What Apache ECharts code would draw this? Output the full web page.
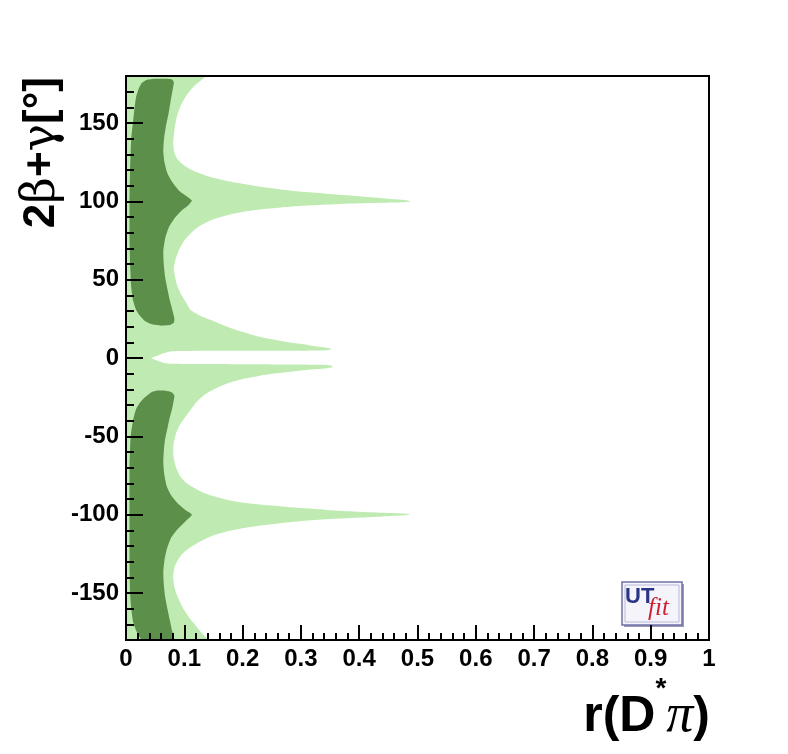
<!DOCTYPE html>
<html>
<head>
<meta charset="utf-8">
<script src="https://cdn.jsdelivr.net/npm/echarts@6/dist/echarts.min.js"></script>
<style>
html,body{margin:0;padding:0;background:#fff;}
#chart{width:788px;height:754px;}
</style>
</head>
<body>
<div id="chart"></div>
<script>
// ---- tick labels ----
const xTickValues = [0, 0.1, 0.2, 0.3, 0.4, 0.5, 0.6, 0.7, 0.8, 0.9, 1];
const yTickValues = [-150, -100, -50, 0, 50, 100, 150];
const yMinorTickValues = [-170,-160,-140,-130,-120,-110,-90,-80,-70,-60,-40,-30,-20,-10,10,20,30,40,60,70,80,90,110,120,130,140,160,170];

// ---- 95% probability region (light green): outline as [r, 2beta+gamma] ----
const light95 = [
  [0,180],[0.137,180],[0.128,177],[0.118,174],[0.11,170.7],[0.101,166],[0.095,162],[0.09,157.5],
  [0.087,153.7],[0.084,148],[0.082,142],[0.081,137],[0.083,131],[0.088,127],[0.096,124],[0.108,121],
  [0.122,118.5],[0.14,116],[0.162,114],[0.19,111.8],[0.225,109.6],[0.265,107.6],[0.31,105.9],
  [0.355,104.5],[0.4,103.2],[0.44,102],[0.468,101.1],[0.485,100.4],[0.488,99.9],
  [0.475,99.4],[0.44,99.1],[0.39,98.6],[0.33,97.7],[0.28,96.6],[0.245,95.4],[0.21,93.8],[0.18,91.8],
  [0.158,89.5],[0.14,87],[0.125,84],[0.112,80],[0.1,75],[0.091,69],[0.085,63],[0.082,57],[0.084,52],
  [0.088,46],[0.094,41],[0.102,36],[0.111,30.6],[0.127,27],[0.146,24.2],[0.165,21.2],[0.189,17.8],
  [0.21,15.5],[0.229,13.6],[0.25,12],[0.274,10.4],[0.295,9.2],[0.314,8.2],[0.335,7],[0.35,6.1],
  [0.352,5.4],[0.34,4.8],[0.25,4.7],[0.15,4.6],[0.09,4.4],[0.074,4.0],[0.064,3.0],[0.057,1.9],
  [0.049,0.8],[0.043,0],[0.049,-1],[0.057,-2.2],[0.066,-3.2],[0.078,-3.7],[0.13,-3.9],[0.25,-4.1],
  [0.34,-4.3],[0.354,-5.0],[0.354,-5.9],[0.345,-6.5],[0.33,-7],[0.309,-7.6],[0.285,-8.6],[0.257,-9.8],
  [0.23,-11.3],[0.206,-13],[0.18,-15.5],[0.16,-18.3],[0.144,-21.3],[0.131,-24.6],[0.12,-28.5],
  [0.111,-33],[0.101,-38],[0.092,-43],[0.086,-48],[0.082,-54],[0.081,-60.5],[0.083,-66],[0.087,-71],
  [0.094,-76],[0.104,-80],[0.117,-83],[0.13,-85.5],[0.148,-88],[0.172,-90.4],[0.205,-92.5],
  [0.245,-94],[0.29,-95.5],[0.34,-96.8],[0.39,-97.9],[0.44,-98.7],[0.475,-99.2],[0.487,-99.7],
  [0.478,-100.4],[0.44,-101.1],[0.39,-102],[0.33,-103.3],[0.276,-105],[0.235,-106.8],[0.2,-108.7],
  [0.17,-111],[0.146,-113.7],[0.128,-117],[0.112,-120.5],[0.098,-124.5],[0.089,-129],[0.083,-134],
  [0.081,-140],[0.083,-146],[0.087,-151],[0.093,-156],[0.1,-161],[0.109,-166],[0.12,-171],
  [0.13,-175.5],[0.14,-180],[0,-180]
];

// ---- 68% probability regions (dark green) ----
const dark68Upper = [
  [0.035,177.5],[0.05,178.3],[0.07,178.3],[0.079,177.8],[0.082,176],[0.08,171],[0.077,165],[0.073,156],
  [0.068,147],[0.065,139],[0.064,132],[0.066,125],[0.071,118],[0.08,112],[0.092,106.5],[0.105,103],
  [0.113,100.5],[0.107,97.5],[0.095,94],[0.083,89],[0.073,83],[0.067,76],[0.064,68],[0.065,59],
  [0.067,52],[0.071,44],[0.075,37],[0.08,30],[0.083,25],[0.082,22.5],[0.075,21],[0.06,20.6],
  [0.045,21.5],[0.033,23.5],[0.024,27],[0.017,31],[0.012,37],[0.009,45],[0.007,60],[0.006,80],
  [0.006,100],[0.007,120],[0.009,140],[0.013,154],[0.017,166],[0.022,172],[0.027,175.5]
];
const dark68Lower = [
  [0.054,-20.8],[0.068,-20.9],[0.078,-21.8],[0.083,-24],[0.081,-29],[0.078,-34],[0.075,-38],
  [0.071,-45],[0.067,-52],[0.065,-59],[0.064,-67],[0.066,-75],[0.07,-82],[0.078,-88],[0.088,-92.5],
  [0.102,-97],[0.113,-100],[0.104,-103.5],[0.088,-109.5],[0.077,-115],[0.07,-122],[0.066,-129],
  [0.064,-137],[0.065,-145],[0.067,-152],[0.071,-160],[0.075,-167],[0.079,-174],[0.082,-180],
  [0.028,-180],[0.02,-176],[0.0126,-169],[0.009,-160],[0.007,-150],[0.006,-130],[0.006,-100],
  [0.006,-70],[0.008,-50],[0.012,-40],[0.017,-33],[0.025,-28],[0.034,-24.6],[0.043,-22]
];

const LIGHT = '#bfebb2';
const DARK = '#5b8f4a';

function regionSeries(name, pts, color) {
  return {
    type: 'custom',
    name: name,
    coordinateSystem: 'cartesian2d',
    xAxisIndex: 0, yAxisIndex: 0,
    clip: true,
    silent: true,
    z: 2,
    data: pts,
    encode: {x: 0, y: 1},
    renderItem: function (params, api) {
      if (params.dataIndex !== 0) return null;
      const points = pts.map(function (p) { return api.coord(p); });
      return {
        type: 'polygon',
        shape: {points: points, smooth: 0.2, smoothConstraint: [points[0].slice(), points[0].slice()]},
        style: {fill: color, stroke: null}
      };
    }
  };
}

const chart = echarts.init(document.getElementById('chart'), null, {renderer: 'canvas'});
const labelStyle = {color: '#000', fontSize: 24, fontWeight: 'bold', fontFamily: 'Liberation Sans, Arial, sans-serif'};

chart.setOption({
  backgroundColor: '#fff',
  animation: false,
  grid: {left: 126, top: 76, right: 79, bottom: 114, show: true, borderColor: '#000', borderWidth: 2,
         backgroundColor: 'transparent', z: 10},
  xAxis: {
    type: 'value', min: 0, max: 1, interval: 0.1, z: 10,
    axisLine: {show: true, onZero: false, lineStyle: {color: '#000', width: 2}},
    axisTick: {show: true, inside: true, length: 15, lineStyle: {color: '#000', width: 2}},
    minorTick: {show: true, splitNumber: 5, length: 7, lineStyle: {color: '#000', width: 2}},
    splitLine: {show: false},
    axisLabel: Object.assign({margin: 7, customValues: xTickValues,
      formatter: function (v) { return String(+v.toFixed(1)); }}, labelStyle)
  },
  yAxis: [{
    type: 'value', min: -180, max: 180, z: 10,
    axisLine: {show: true, onZero: false, lineStyle: {color: '#000', width: 2}},
    axisTick: {show: true, inside: true, length: 17, customValues: yTickValues, lineStyle: {color: '#000', width: 2}},
    splitLine: {show: false},
    axisLabel: Object.assign({margin: 7, customValues: yTickValues}, labelStyle)
  }, {
    type: 'value', min: -180, max: 180, position: 'left', z: 10,
    axisLine: {show: false},
    axisTick: {show: true, inside: true, length: 8, customValues: yMinorTickValues, lineStyle: {color: '#000', width: 2}},
    splitLine: {show: false},
    axisLabel: {show: false}
  }],
  series: [
    regionSeries('95%', light95, LIGHT),
    regionSeries('68% upper', dark68Upper, DARK),
    regionSeries('68% lower', dark68Lower, DARK)
  ],
  graphic: [
    {
      type: 'text', x: 42, y: 77, rotation: Math.PI / 2, z: 20,
      style: {
        text: '{a|2}{g|β}{a|+}{g|γ}{a|[°]}',
        align: 'right', verticalAlign: 'middle',
        rich: {
          a: {fontSize: 44, fontWeight: 'bold', fontFamily: 'Liberation Sans, Arial, sans-serif', fill: '#000'},
          g: {fontSize: 46, fontWeight: 'normal', fontFamily: 'DejaVu Serif, serif', fill: '#000'}
        }
      }
    },
    {
      type: 'text', x: 710, y: 717, z: 20,
      style: {
        text: '{a|r(D}{s|*}{p|π}{a|)}',
        align: 'right', verticalAlign: 'middle',
        rich: {
          a: {fontSize: 50, fontWeight: 'bold', fontFamily: 'Liberation Sans, Arial, sans-serif', fill: '#000', lineHeight: 84},
          s: {fontSize: 28, fontWeight: 'bold', fontFamily: 'Liberation Sans, Arial, sans-serif', fill: '#000', lineHeight: 28, verticalAlign: 'top'},
          p: {fontSize: 54, fontStyle: 'italic', fontFamily: 'Liberation Serif, serif', fill: '#000', lineHeight: 84}
        }
      }
    },
    {
      type: 'group', x: 622, y: 582, z: 20,
      children: [
        {type: 'rect', shape: {x: 2, y: 2, width: 60, height: 43}, style: {fill: '#9a9ab8'}},
        {type: 'rect', shape: {x: 0, y: 0, width: 60, height: 43}, style: {fill: '#f6f4fb', stroke: '#6f72a8', lineWidth: 1.5}},
        {type: 'rect', shape: {x: 3, y: 3, width: 54, height: 37}, style: {fill: 'none', stroke: '#b8bad8', lineWidth: 1}},
        {type: 'text', x: 3, y: 4, style: {text: 'UT', fontSize: 22, fontWeight: 'bold', fontFamily: 'Liberation Sans Narrow, Liberation Sans, Arial, sans-serif', fill: '#2b3585'}},
        {type: 'text', x: 26, y: 14, style: {text: 'fit', fontSize: 25, fontStyle: 'italic', fontFamily: 'Liberation Serif, serif', fill: '#cc2233'}}
      ]
    }
  ]
});
</script>
</body>
</html>
